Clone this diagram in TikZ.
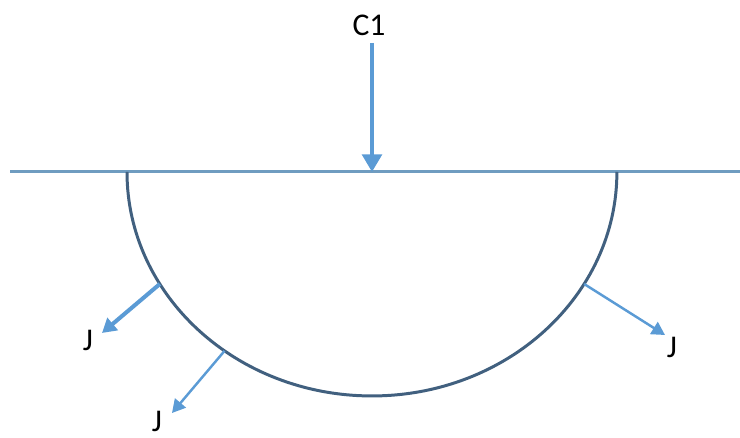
\documentclass[tikz,border=0pt]{standalone}
\usepackage{fontspec}
\setmainfont{Carlito}
\usepackage{tikz}
\usetikzlibrary{positioning,arrows.meta,calc}
\definecolor{flowblue}{HTML}{5B9BD5}
\definecolor{surfline}{HTML}{6F9CC0}
\definecolor{bowlline}{HTML}{41607F}

\begin{document}
\begin{tikzpicture}[
      x=0.02cm, y=0.02cm,
      font=\fontsize{18}{20}\selectfont,
      lbl/.style={inner sep=0pt, text=black},
      flux/.style={draw=flowblue, line width=1.4pt, -{Triangle[width=8pt,length=7.5pt]}},
      bigflux/.style={flux, line width=2.3pt, -{Triangle[width=9pt,length=8pt]}},
      inflow/.style={flux, line width=2.8pt, -{Triangle[width=11pt,length=10pt]}},
    ]
    \useasboundingbox (0,0) rectangle (740,438);

    % surface and bowl
    \coordinate (o) at (372,266);
    \draw[surfline, line width=1.7pt] (10,266) -- (740,266);
    \draw[bowlline, line width=1.7pt] (127,266) arc[start angle=180, end angle=360,
          x radius=4.9cm, y radius=4.48cm];

    % points on the bowl
    \coordinate (p1) at ($(o)+(210:245 and 224)$);
    \coordinate (p2) at ($(o)+(233:245 and 224)$);
    \coordinate (p3) at ($(o)+(330:245 and 224)$);
    \coordinate (t1) at (102,105);
    \coordinate (t2) at (172,25);
    \coordinate (t3) at (665,103);

    % incoming flux
    \node[lbl] (c1) at (369,413) {C1};
    \coordinate (c1s) at (372,395);
    \draw[inflow] (c1s) -- (o);

    % outgoing flux
    \draw[bigflux] (p1) -- (t1);
    \draw[flux] (p2) -- (t2);
    \draw[flux] (p3) -- (t3);
    \node[lbl] (j1) at (88,98) {J};
    \node[lbl] (j2) at (157,17) {J};
    \node[lbl] (j3) at (672,91) {J};
  \end{tikzpicture}
\end{document}
